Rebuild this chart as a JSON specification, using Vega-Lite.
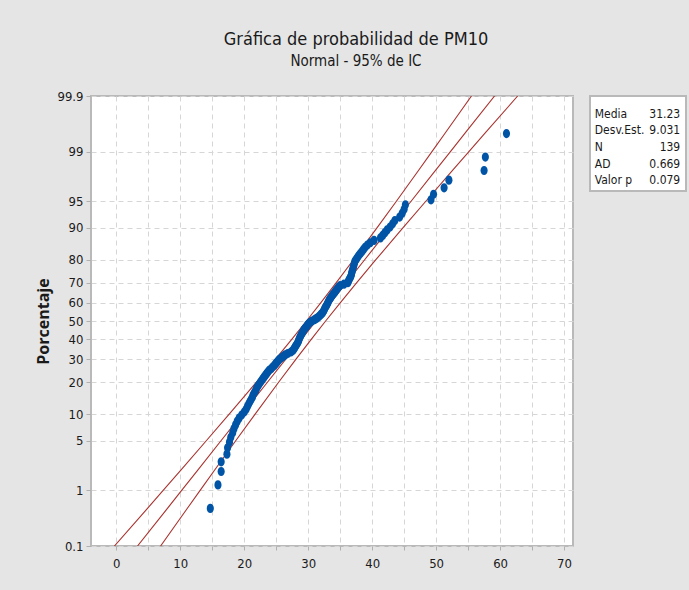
{
  "$schema": "https://vega.github.io/schema/vega-lite/v6.json",
  "autosize": {"type": "pad"},
  "padding": {"left": 34, "top": 30, "right": 5, "bottom": 21},
  "background": "#e5e5e5",
  "config": {
    "font": "Liberation Sans Narrow, DejaVu Sans Condensed, Roboto Condensed, Lato",
    "view": {"fill": "white", "stroke": "#b9b9b9", "strokeWidth": 2}
  },
  "datasets": {
    "points": [
      {"PM10": 14.7}, {"PM10": 15.9}, {"PM10": 16.4}, {"PM10": 16.4}, {"PM10": 17.3}, {"PM10": 17.4}, {"PM10": 17.7}, {"PM10": 17.9}, {"PM10": 18.2}, {"PM10": 18.4},
      {"PM10": 18.65}, {"PM10": 18.9}, {"PM10": 19.2}, {"PM10": 19.6}, {"PM10": 20.0}, {"PM10": 20.3}, {"PM10": 20.5}, {"PM10": 20.7}, {"PM10": 20.9}, {"PM10": 21.1},
      {"PM10": 21.3}, {"PM10": 21.4}, {"PM10": 21.6}, {"PM10": 21.8}, {"PM10": 21.9}, {"PM10": 22.1}, {"PM10": 22.3}, {"PM10": 22.5}, {"PM10": 22.7}, {"PM10": 22.9},
      {"PM10": 23.1}, {"PM10": 23.3}, {"PM10": 23.5}, {"PM10": 23.7}, {"PM10": 23.9}, {"PM10": 24.2}, {"PM10": 24.45}, {"PM10": 24.7}, {"PM10": 24.9}, {"PM10": 25.1},
      {"PM10": 25.3}, {"PM10": 25.5}, {"PM10": 25.8}, {"PM10": 26.1}, {"PM10": 26.4}, {"PM10": 26.8}, {"PM10": 27.3}, {"PM10": 27.6}, {"PM10": 27.75}, {"PM10": 27.9},
      {"PM10": 28.0}, {"PM10": 28.15}, {"PM10": 28.3}, {"PM10": 28.4}, {"PM10": 28.5}, {"PM10": 28.55}, {"PM10": 28.65}, {"PM10": 28.75}, {"PM10": 28.85}, {"PM10": 28.95},
      {"PM10": 29.1}, {"PM10": 29.2}, {"PM10": 29.3}, {"PM10": 29.45}, {"PM10": 29.6}, {"PM10": 29.8}, {"PM10": 29.9}, {"PM10": 30.1}, {"PM10": 30.3}, {"PM10": 30.6},
      {"PM10": 31.0}, {"PM10": 31.3}, {"PM10": 31.6}, {"PM10": 31.8}, {"PM10": 32.0}, {"PM10": 32.2}, {"PM10": 32.35}, {"PM10": 32.45}, {"PM10": 32.55}, {"PM10": 32.65},
      {"PM10": 32.75}, {"PM10": 32.9}, {"PM10": 33.0}, {"PM10": 33.1}, {"PM10": 33.2}, {"PM10": 33.3}, {"PM10": 33.45}, {"PM10": 33.6}, {"PM10": 33.75}, {"PM10": 33.9},
      {"PM10": 34.1}, {"PM10": 34.25}, {"PM10": 34.4}, {"PM10": 34.6}, {"PM10": 34.75}, {"PM10": 35.0}, {"PM10": 35.6}, {"PM10": 36.2}, {"PM10": 36.3}, {"PM10": 36.4},
      {"PM10": 36.55}, {"PM10": 36.65}, {"PM10": 36.75}, {"PM10": 36.8}, {"PM10": 36.85}, {"PM10": 36.95}, {"PM10": 37.0}, {"PM10": 37.1}, {"PM10": 37.15}, {"PM10": 37.25},
      {"PM10": 37.3}, {"PM10": 37.5}, {"PM10": 37.7}, {"PM10": 37.9}, {"PM10": 38.15}, {"PM10": 38.4}, {"PM10": 38.65}, {"PM10": 38.9}, {"PM10": 39.25}, {"PM10": 39.7},
      {"PM10": 40.3}, {"PM10": 41.3}, {"PM10": 41.65}, {"PM10": 42.0}, {"PM10": 42.35}, {"PM10": 42.8}, {"PM10": 43.2}, {"PM10": 43.55}, {"PM10": 44.3}, {"PM10": 44.7},
      {"PM10": 45.0}, {"PM10": 45.2}, {"PM10": 49.2}, {"PM10": 49.6}, {"PM10": 51.25}, {"PM10": 52.0}, {"PM10": 57.5}, {"PM10": 57.7}, {"PM10": 61.0}
    ],
    "fitlines": [
      {"pct": 0.1, "lo": -0.29, "fit": 3.32, "hi": 6.93},
      {"pct": 0.5, "lo": 4.85, "fit": 7.97, "hi": 11.09},
      {"pct": 1, "lo": 7.33, "fit": 10.22, "hi": 13.11},
      {"pct": 2, "lo": 10.03, "fit": 12.68, "hi": 15.33},
      {"pct": 5, "lo": 14.07, "fit": 16.37, "hi": 18.67},
      {"pct": 10, "lo": 17.62, "fit": 19.65, "hi": 21.68},
      {"pct": 20, "lo": 21.88, "fit": 23.63, "hi": 25.38},
      {"pct": 30, "lo": 24.90, "fit": 26.50, "hi": 28.10},
      {"pct": 40, "lo": 27.43, "fit": 28.95, "hi": 30.48},
      {"pct": 50, "lo": 29.73, "fit": 31.23, "hi": 32.73},
      {"pct": 60, "lo": 31.99, "fit": 33.51, "hi": 35.04},
      {"pct": 70, "lo": 34.36, "fit": 35.96, "hi": 37.56},
      {"pct": 80, "lo": 37.08, "fit": 38.83, "hi": 40.58},
      {"pct": 90, "lo": 40.78, "fit": 42.81, "hi": 44.84},
      {"pct": 95, "lo": 43.79, "fit": 46.09, "hi": 48.39},
      {"pct": 98, "lo": 47.13, "fit": 49.78, "hi": 52.43},
      {"pct": 99, "lo": 49.35, "fit": 52.24, "hi": 55.13},
      {"pct": 99.5, "lo": 51.37, "fit": 54.49, "hi": 57.61},
      {"pct": 99.9, "lo": 55.53, "fit": 59.14, "hi": 62.75}
    ],
    "stats": [
      {"i": 1, "k": "Media", "v": "31.23"},
      {"i": 2, "k": "Desv.Est.", "v": "9.031"},
      {"i": 3, "k": "N", "v": "139"},
      {"i": 4, "k": "AD", "v": "0.669"},
      {"i": 5, "k": "Valor p", "v": "0.079"}
    ]
  },
  "bounds": "flush",
  "spacing": 17,
  "hconcat": [
    {
      "width": 482,
      "height": 450,
      "title": {
        "text": "Gráfica de probabilidad de PM10",
        "subtitle": "Normal - 95% de IC",
        "anchor": "middle",
        "dx": 24,
        "fontSize": 18,
        "fontWeight": "normal",
        "color": "#1a1a1a",
        "subtitleFontSize": 15,
        "subtitleColor": "#1a1a1a",
        "subtitlePadding": 5,
        "offset": 21
      },
      "layer": [
        {
          "data": {"name": "fitlines"},
          "transform": [
            {"fold": ["lo", "fit", "hi"], "as": ["band", "xv"]},
            {"calculate": "quantileNormal(datum.pct / 100)", "as": "z"}
          ],
          "mark": {"type": "line", "color": "#a8322f", "strokeWidth": 1.1, "clip": true},
          "encoding": {
            "x": {"field": "xv", "type": "quantitative"},
            "y": {"field": "z", "type": "quantitative"},
            "detail": {"field": "band"},
            "order": {"field": "pct", "type": "quantitative"}
          }
        },
        {
          "data": {"name": "points"},
          "transform": [
            {"window": [{"op": "row_number", "as": "rank"}], "sort": [{"field": "PM10"}]},
            {"calculate": "quantileNormal((datum.rank - 0.3) / 139.4)", "as": "z"}
          ],
          "mark": {"type": "point", "shape": "M-0.78,0A0.78,1 0 1,0 0.78,0A0.78,1 0 1,0 -0.78,0Z", "size": 84, "filled": true, "color": "#0054a6", "opacity": 1},
          "encoding": {
            "x": {"field": "PM10", "type": "quantitative"},
            "y": {"field": "z", "type": "quantitative"}
          }
        }
      ],
      "encoding": {
        "x": {
          "type": "quantitative",
          "scale": {"domain": [-3.95, 71.4], "nice": false, "zero": false},
          "axis": {
            "title": null,
            "values": [0, 5, 10, 15, 20, 25, 30, 35, 40, 45, 50, 55, 60, 65, 70],
            "labelExpr": "datum.value % 10 === 0 ? datum.label : ''",
            "labelFontSize": 13,
            "labelColor": "#1a1a1a",
            "labelPadding": 7,
            "tickSize": 4,
            "tickColor": "#b0b0b0",
            "domain": false,
            "grid": true,
            "gridColor": "#d6d6d6",
            "gridDash": [5, 4],
            "gridWidth": 1
          }
        },
        "y": {
          "type": "quantitative",
          "scale": {"domain": [-3.0902323, 3.0902323], "nice": false, "zero": false},
          "axis": {
            "title": "Porcentaje",
            "titleFont": "Open Sans",
            "titleFontSize": 16,
            "titleFontWeight": "bold",
            "titleColor": "#1a1a1a",
            "titlePadding": 5,
            "values": [-3.0902323, -2.3263479, -1.6448536, -1.2815516, -0.8416212, -0.5244005, -0.2533471, 0, 0.2533471, 0.5244005, 0.8416212, 1.2815516, 1.6448536, 2.3263479, 3.0902323],
            "labelExpr": "format(cumulativeNormal(datum.value) * 100, '.3~')",
            "labelFontSize": 13,
            "labelColor": "#1a1a1a",
            "labelPadding": 3,
            "tickSize": 5,
            "tickColor": "#b0b0b0",
            "domain": false,
            "grid": true,
            "gridColor": "#d6d6d6",
            "gridDash": [5, 4],
            "gridWidth": 1
          }
        }
      }
    },
    {
      "width": 96,
      "height": 95,
      "data": {"name": "stats"},
      "layer": [
        {
          "mark": {"type": "text", "align": "left", "baseline": "middle", "fontSize": 12, "color": "#1a1a1a"},
          "encoding": {
            "x": {"datum": 0.05, "type": "quantitative", "scale": {"domain": [0, 1]}, "axis": null},
            "y": {"field": "i", "type": "quantitative", "scale": {"domain": [-0.05, 5.65], "reverse": true}, "axis": null},
            "text": {"field": "k"}
          }
        },
        {
          "mark": {"type": "text", "align": "right", "baseline": "middle", "fontSize": 12, "color": "#1a1a1a"},
          "encoding": {
            "x": {"datum": 0.94, "type": "quantitative", "scale": {"domain": [0, 1]}, "axis": null},
            "y": {"field": "i", "type": "quantitative", "scale": {"domain": [-0.05, 5.65], "reverse": true}, "axis": null},
            "text": {"field": "v"}
          }
        }
      ]
    }
  ]
}
